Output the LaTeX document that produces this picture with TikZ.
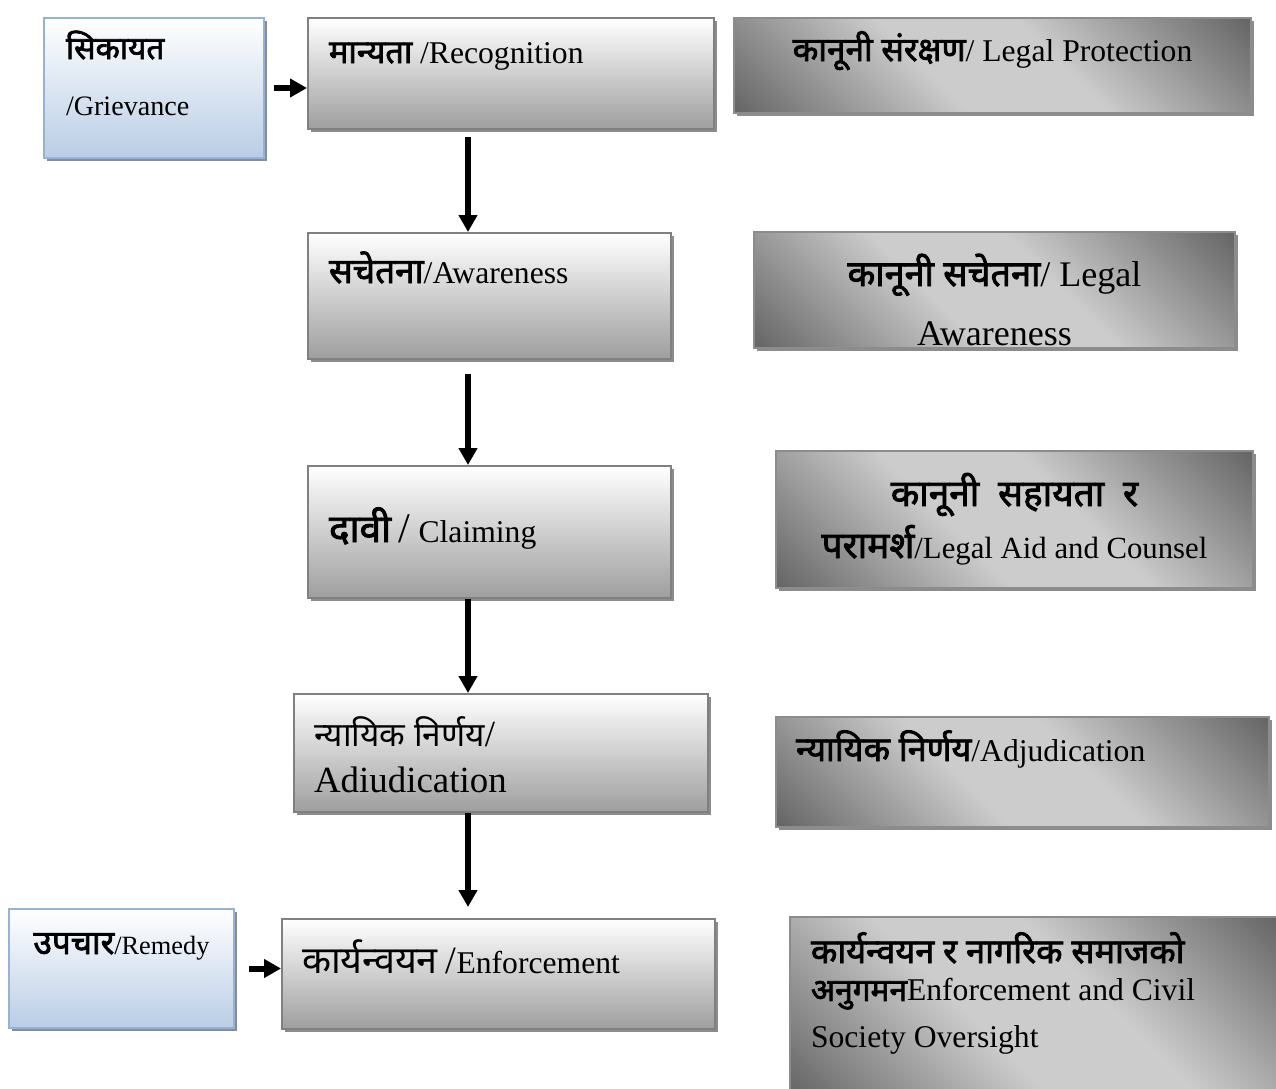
\documentclass[tikz,border=0pt]{standalone}
\usepackage{fontspec}
\setmainfont{Liberation Serif}
\newfontfamily\deva[Script=Devanagari]{Noto Sans}
\newfontfamily\devab[Script=Devanagari,FakeBold=2.2]{Noto Sans}
\usepackage{tikz}
\usetikzlibrary{arrows.meta,shadows}
\usepackage{xcolor}

\definecolor{blueline}{RGB}{149,179,215}
\definecolor{bluefill}{RGB}{185,205,229}
\pgfdeclarehorizontalshading{sheen}{100bp}{color(0bp)=(black!62); color(15bp)=(black!60); color(42bp)=(black!20); color(58bp)=(black!20); color(85bp)=(black!60); color(100bp)=(black!62)}
\newcommand{\dvb}[2][]{{#1\devab #2}}

\begin{document}
\begin{tikzpicture}[
    flow/.style={-{Triangle[width=0.36cm,length=0.34cm]}, line width=0.12cm},
    boxbase/.style={anchor=north west, inner sep=0pt, line width=0.04cm,
        drop shadow={shadow xshift=0.06cm, shadow yshift=-0.06cm, fill=black!45, opacity=1}},
    stagebox/.style={boxbase, draw=black!50, top color=white, bottom color=black!38},
    sidebox/.style={boxbase, draw=blueline, top color=white, bottom color=bluefill},
    rightbox/.style={boxbase, draw=black!45, shading=sheen, shading angle=45}]

        \useasboundingbox (0,0) rectangle (25.52,-21.76);

        % Stages (middle)
        \node[stagebox, minimum width=8.12cm, minimum height=2.22cm] (rec) at (6.14,-0.34)
            {\parbox[c][2.22cm][t]{7.28cm}{\raggedright\fontsize{18}{24}\selectfont\rule{0pt}{0.90cm}\dvb[\fontsize{18.5}{24}\selectfont]{मान्यता} /Recognition}};
        \node[stagebox, minimum width=7.26cm, minimum height=2.52cm] (aware) at (6.14,-4.64)
            {\parbox[c][2.52cm][t]{6.42cm}{\raggedright\fontsize{18}{24}\selectfont\rule{0pt}{1.0cm}\dvb[\fontsize{20}{24}\selectfont]{सचेतना}/Awareness}};
        \node[stagebox, minimum width=7.26cm, minimum height=2.64cm] (claim) at (6.14,-9.30)
            {\parbox[c][2.64cm][t]{6.42cm}{\raggedright\fontsize{18}{24}\selectfont\rule{0pt}{1.52cm}\dvb[\fontsize{22}{24}\selectfont]{दावी} {\fontsize{24}{24}\selectfont/} Claiming}};
        \node[stagebox, minimum width=8.28cm, minimum height=2.36cm] (adjl) at (5.86,-13.86)
            {\parbox[c][2.36cm][t]{7.48cm}{\raggedright\fontsize{21}{26.7}\selectfont\rule{0pt}{1.04cm}{\fontsize{19}{24}\selectfont\deva न्यायिक निर्णय}/\\ Adiudication}};
        \node[stagebox, minimum width=8.66cm, minimum height=2.20cm] (enf) at (5.62,-18.36)
            {\parbox[c][2.20cm][t]{7.86cm}{\raggedright\fontsize{18}{24}\selectfont\rule{0pt}{1.08cm}{\fontsize{21.5}{24}\selectfont\deva कार्यन्वयन} {\fontsize{22}{24}\selectfont/}Enforcement}};

        % Inputs (left)
        \node[sidebox, minimum width=4.40cm, minimum height=2.80cm] (griev) at (0.86,-0.34)
            {\parbox[c][2.80cm][t]{3.52cm}{\raggedright\fontsize{16}{32.4}\selectfont\rule{0pt}{0.82cm}\dvb[\fontsize{18}{24}\selectfont]{सिकायत}\\ /Grievance}};
        \node[sidebox, minimum width=4.50cm, minimum height=2.38cm] (remedy) at (0.16,-18.16)
            {\parbox[c][2.38cm][t]{4.2cm}{\centering\fontsize{15}{20}\selectfont\rule{0pt}{0.90cm}\dvb[\fontsize{19}{20}\selectfont]{उपचार}/Remedy}};

        % Legal support (right)
        \node[rightbox, minimum width=10.34cm, minimum height=1.90cm] (lprot) at (14.66,-0.34)
            {\parbox[c][1.90cm][t]{10.0cm}{\centering\fontsize{18}{24}\selectfont\rule{0pt}{0.86cm}\dvb[\fontsize{19}{24}\selectfont]{कानूनी संरक्षण}/ Legal Protection}};
        \node[rightbox, minimum width=9.62cm, minimum height=2.32cm] (laware) at (15.06,-4.62)
            {\parbox[c][2.32cm][t]{9.2cm}{\centering\fontsize{20.5}{34}\selectfont\rule{0pt}{1.08cm}\dvb[\fontsize{20.5}{34}\selectfont]{कानूनी सचेतना}/ Legal\\ Awareness}};
        \node[rightbox, minimum width=9.54cm, minimum height=2.74cm] (laid) at (15.50,-9.00)
            {\parbox[c][2.74cm][t]{9.2cm}{\centering\fontsize{17.5}{29.6}\selectfont\rule{0pt}{1.10cm}\dvb[\fontsize{21}{29.6}\selectfont]{कानूनी\hspace{0.25em} सहायता\hspace{0.25em} र}\\ \dvb[\fontsize{21}{29.6}\selectfont]{परामर्श}/Legal Aid and Counsel}};
        \node[rightbox, minimum width=9.86cm, minimum height=2.20cm] (adjr) at (15.50,-14.32)
            {\parbox[c][2.20cm][t]{9.06cm}{\raggedright\fontsize{18}{24}\selectfont\rule{0pt}{0.88cm}\dvb[\fontsize{19.5}{24}\selectfont]{न्यायिक निर्णय}/Adjudication}};
        \node[rightbox, minimum width=9.82cm, minimum height=3.60cm] (civil) at (15.78,-18.32)
            {\parbox[c][3.60cm][t]{8.98cm}{\raggedright\fontsize{18}{21.6}\selectfont\rule{0pt}{0.92cm}\dvb[\fontsize{19.5}{21.6}\selectfont]{कार्यन्वयन र नागरिक समाजको}\\ \dvb{अनुगमन}Enforcement and Civil\\[0.18cm] Society Oversight}};

        % Arrows
        \coordinate (spine) at (9.36,0);
        \draw[flow, shorten <=0.18cm] (griev.east) -- (griev.east -| rec.west);
        \draw[flow, shorten <=0.14cm] (rec.south -| spine) -- (aware.north -| spine);
        \draw[flow, shorten <=0.28cm] (aware.south -| spine) -- (claim.north -| spine);
        \draw[flow] (claim.south -| spine) -- (adjl.north -| spine);
        \draw[flow, shorten >=0.22cm] (adjl.south -| spine) -- (enf.north -| spine);
        \draw[flow, shorten <=0.28cm] (remedy.east) -- (remedy.east -| enf.west);

    \end{tikzpicture}
\end{document}
